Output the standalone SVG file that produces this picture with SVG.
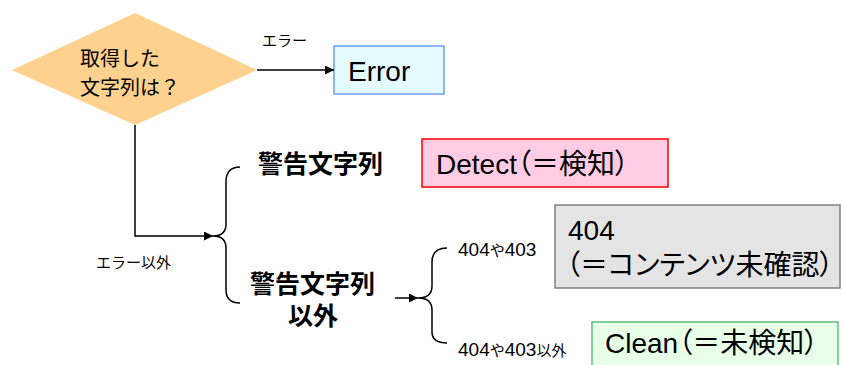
<svg xmlns="http://www.w3.org/2000/svg" width="842" height="365" viewBox="0 0 842 365">
<defs>
<style>
.t{font-family:"Liberation Sans","Noto Sans CJK JP",sans-serif;fill:#000}
.big{font-size:28px;font-feature-settings:"palt"}
.lbl{font-size:15px}
.dig{font-size:19px}
.bold{font-size:25px;font-weight:bold}
.ln{fill:none;stroke:#000;stroke-width:1.5}
</style>
<marker id="arr" viewBox="0 0 10 10" refX="10" refY="5" markerWidth="6" markerHeight="6" orient="auto" markerUnits="strokeWidth">
<path d="M0,0 L10,5 L0,10 z" fill="#000"/>
</marker>
</defs>
<rect width="842" height="365" fill="#fff"/>
<g id="decision">
<polygon points="12,70 135,13 257,70 135,125" fill="#FFD18E"/>
<text class="t" font-size="20" x="80" y="66">取得した</text>
<text class="t" font-size="20" x="80" y="95">文字列は？</text>
</g>
<g id="error">
<rect x="334" y="46" width="110" height="48" fill="#E5FCFF" stroke="#6E9CFF" stroke-width="1.5"/>
<text class="t big" x="348" y="81">Error</text>
</g>
<g id="detect">
<rect x="422" y="139" width="246" height="48" fill="#FFCCE4" stroke="#FF0000" stroke-width="1.5"/>
<text class="t big" x="436" y="174">Detect（＝検知）</text>
</g>
<g id="notfound">
<rect x="555" y="205" width="285" height="83" fill="#E4E4E4" stroke="#808080" stroke-width="1.5"/>
<text class="t big" x="568" y="240">404</text>
<text class="t big" x="566" y="275">（＝コンテンツ未確認）</text>
</g>
<g id="clean">
<rect x="592" y="322" width="246" height="50" fill="#E8FFE8" stroke="#5CBF7A" stroke-width="1.5"/>
<text class="t big" x="605" y="353">Clean（＝未検知）</text>
</g>
<g id="warn">
<text class="t bold" x="258" y="173">警告文字列</text>
</g>
<g id="nowarn">
<text class="t bold" x="250" y="293">警告文字列</text>
<text class="t bold" x="313" y="325" text-anchor="middle">以外</text>
</g>
<g id="connectors">
<path class="ln" d="M257,70 H334" marker-end="url(#arr)"/>
<path class="ln" d="M135,125 V236 H213" marker-end="url(#arr)"/>
<path class="ln" d="M240,167 Q226,167 226,182 V224 Q226,236 213,236 Q226,236 226,248 V290 Q226,303 240,303"/>
<path class="ln" d="M395,298 H418" marker-end="url(#arr)"/>
<path class="ln" d="M447,248 Q432,248 432,262 V286 Q432,298 418,298 Q432,298 432,310 V332 Q432,343 447,343"/>
<text class="t lbl" x="262" y="46">エラー</text>
<text class="t lbl" x="96" y="268">エラー以外</text>
<text class="t lbl" x="458" y="256"><tspan class="dig">404</tspan>や<tspan class="dig">403</tspan></text>
<text class="t lbl" x="458" y="356"><tspan class="dig">404</tspan>や<tspan class="dig">403</tspan>以外</text>
</g>
</svg>
